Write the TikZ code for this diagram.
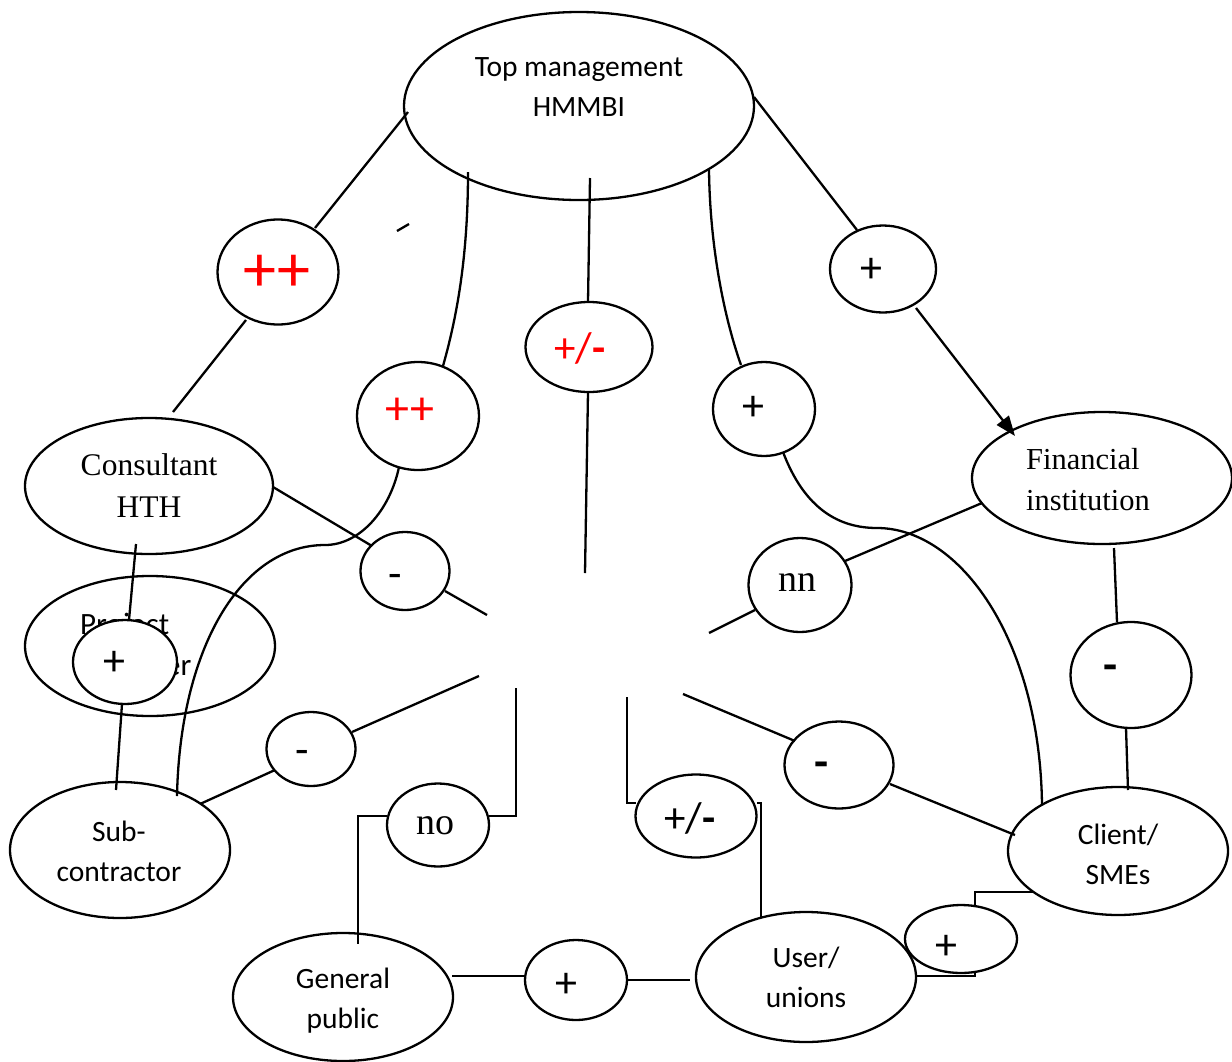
\documentclass[tikz,border=0pt]{standalone}
\usepackage{fontspec}
\setmainfont{Carlito}
\newfontfamily\tnrfont{Liberation Serif}
\usetikzlibrary{arrows.meta,calc,shapes.geometric}
\definecolor{signred}{RGB}{255,0,0}

\begin{document}
\begin{tikzpicture}[x=1pt,y=-1pt,line width=2.3pt,
  party/.style={draw,ellipse,inner sep=0pt,outer sep=0pt},
  sign/.style={draw,ellipse,inner sep=0pt,outer sep=0pt,fill=white},
  word/.style={inner sep=0pt,align=center,font=\fontsize{29.5}{40}\selectfont},
  rom/.style={inner sep=0pt,align=center,font=\tnrfont\fontsize{31.5}{42}\selectfont},
  plus/.style={inner sep=0pt,font=\fontsize{44}{44}\selectfont},
  bigplus/.style={inner sep=0pt,text=signred,font=\fontsize{66}{66}\selectfont},
  midplus/.style={inner sep=0pt,text=signred,font=\fontsize{48}{48}\selectfont},
  pm/.style={inner sep=0pt,font=\fontsize{43}{43}\selectfont},
  minus/.style={inner sep=0pt,font=\fontsize{44}{44}\selectfont},
  boldminus/.style={inner sep=0pt,font=\bfseries\fontsize{46}{46}\selectfont},
  short/.style={inner sep=0pt,font=\tnrfont\fontsize{38}{38}\selectfont},
  tip/.style={-{Triangle[length=20pt,width=15pt]}}
]
\fill[white] (0,0) rectangle (1232,1061);
\useasboundingbox (0,0) rectangle (1232,1061);

% stakeholders
\node[party,minimum width=350pt,minimum height=188pt] (top) at (579,106) {};
\node[party,minimum width=248pt,minimum height=136pt] (cons) at (149,486) {};
\node[party,minimum width=250pt,minimum height=140pt] (pmgr) at (150,646) {};
\node[party,minimum width=220pt,minimum height=136pt] (sub) at (120,850) {};
\node[party,minimum width=220pt,minimum height=128pt] (gen) at (343,997) {};
\node[party,minimum width=220pt,minimum height=130pt] (user) at (806,977) {};
\node[party,minimum width=220pt,minimum height=128pt] (client) at (1118,851) {};
\node[party,minimum width=260pt,minimum height=132pt] (fin) at (1102,478) {};

\node[word] (t-top) at (579,87) {Top management\\HMMBI};
\node[rom] (t-cons) at (149,486) {Consultant\\HTH};
\node[word,align=left,anchor=west,font=\fontsize{31}{41}\selectfont] (t-pmgr) at (79,647) {Project\\manager};
\node[word] (t-sub) at (119,851) {Sub-\\contractor};
\node[word] (t-gen) at (343,1001) {General\\public};
\node[word] (t-user) at (806,977) {User/\\unions};
\node[word] (t-client) at (1118,854) {Client/\\SMEs};
\node[rom,align=left,anchor=west,font=\tnrfont\fontsize{30.5}{41}\selectfont] (t-fin) at (1025,480) {Financial\\institution};

% relation markers
\node[sign,minimum width=121pt,minimum height=105pt] (ppA) at (278,272) {};
\node[sign,minimum width=122pt,minimum height=108pt] (ppB) at (418,416) {};
\node[sign,minimum width=127pt,minimum height=90pt] (pmC) at (589,347) {};
\node[sign,minimum width=102pt,minimum height=94pt] (pD) at (764,409) {};
\node[sign,minimum width=106pt,minimum height=87pt] (pE) at (883,269) {};
\node[sign,minimum width=89pt,minimum height=78pt] (mF) at (405,571) {};
\node[sign,minimum width=103pt,minimum height=94pt] (nnG) at (800,585) {};
\node[sign,minimum width=121pt,minimum height=106pt] (mH) at (1131,675) {};
\node[sign,minimum width=89pt,minimum height=74pt] (mI) at (311,749) {};
\node[sign,minimum width=102pt,minimum height=83pt] (noJ) at (438,825) {};
\node[sign,minimum width=121pt,minimum height=83pt] (pmK) at (696,816) {};
\node[sign,minimum width=109pt,minimum height=87pt] (mL) at (839,765) {};
\node[sign,minimum width=102pt,minimum height=80pt] (pM) at (576,980) {};
\node[sign,minimum width=112pt,minimum height=68pt] (pN) at (961,939) {};
\node[sign,minimum width=104pt,minimum height=84pt] (pO) at (125,662) {};

\node[bigplus] (l-ppA) at (277,273) {++};
\node[midplus] (l-ppB) at (410,411) {++};
\node[pm,text=signred] (l-pmC) at (580,348) {+/\textbf{-}};
\node[plus] (l-pD) at (753,408) {+};
\node[plus] (l-pE) at (871,270) {+};
\node[minus] (l-mF) at (395,581) {-};
\node[short] (l-nn) at (797,583) {nn};
\node[boldminus] (l-mH) at (1111,673) {-};
\node[minus] (l-mI) at (302,757) {-};
\node[short] (l-no) at (435,826) {no};
\node[pm] (l-pmK) at (690,818) {+/\textbf{-}};
\node[boldminus] (l-mL) at (822,770) {-};
\node[plus] (l-pM) at (566,985) {+};
\node[plus] (l-pN) at (946,947) {+};
\node[plus] (l-pO) at (114,663) {+};

% loose ends near the centre
\coordinate (e1) at (173,412);
\coordinate (e2) at (585,573);
\coordinate (e3) at (487,615);
\coordinate (e4) at (709,633);
\coordinate (e5) at (479,676);
\coordinate (e6) at (516,688);
\coordinate (e7) at (627,697);
\coordinate (e8) at (683,694);
\coordinate (s1) at (397,231);
\coordinate (s2) at (409,224);

% top management links
\draw ($(top.center)+(-171,6)$) -- ($(ppA.center)+(37,-44)$);
\draw ($(ppA.center)+(-32,48)$) -- (e1);
\draw (s1) -- (s2);
\draw ($(top.center)+(-111,66)$) .. controls (468,260) and (456,320) .. ($(ppB.center)+(25,-50)$);
\draw ($(ppB.center)+(-19,51)$) .. controls (390,510) and (360,545) .. (325,545)
      .. controls (240,545) and (180,650) .. ($(sub.center)+(57,-54)$);
\draw ($(top.center)+(11,72)$) -- ($(pmC.center)+(-1,-45)$);
\draw ($(pmC.center)+(-1,45)$) -- (e2);
\draw ($(top.center)+(130,64)$) .. controls (710,250) and (725,320) .. ($(pD.center)+(-23,-44)$);
\draw ($(pD.center)+(19,43)$) .. controls (805,510) and (840,528) .. (877,528)
      .. controls (960,528) and (1040,640) .. ($(client.center)+(-76,-46)$);
\draw ($(top.center)+(175,-9)$) -- ($(pE.center)+(-26,-39)$);
\draw[tip] ($(pE.center)+(33,39)$) -- ($(fin.center)+(-87,-42)$);

% consultant links
\draw ($(cons.center)+(124,1)$) -- ($(mF.center)+(-33,-25)$);
\draw ($(mF.center)+(40,20)$) -- (e3);
\draw ($(cons.center)+(-13,58)$) -- ($(pO.center)+(4,-42)$);
\draw ($(pO.center)+(-3,42)$) -- ($(sub.center)+(-4,-60)$);

% financial institution links
\draw ($(fin.center)+(-120,25)$) -- ($(nnG.center)+(45,-24)$);
\draw ($(nnG.center)+(-45,25)$) -- (e4);
\draw ($(fin.center)+(12,70)$) -- ($(mH.center)+(-14,-53)$);
\draw ($(mH.center)+(-5,53)$) -- ($(client.center)+(10,-61)$);

% sub-contractor link
\draw ($(sub.center)+(80,-46)$) -- ($(mI.center)+(-36,21)$);
\draw ($(mI.center)+(41,-17)$) -- (e5);

% general public and user links
\draw (e6) |- ($(noJ.center)+(51,-9)$);
\draw ($(noJ.center)+(-51,-9)$) -| ($(gen.center)+(15,-53)$);
\draw (e7) |- ($(pmK.center)+(-60,-13)$);
\draw ($(pmK.center)+(61,-13)$) -| ($(user.center)+(-45,-60)$);
\draw (e8) -- ($(mL.center)+(-44,-24)$);
\draw ($(mL.center)+(51,19)$) -- ($(client.center)+(-103,-16)$);
\draw ($(gen.center)+(109,-21)$) -- ($(pM.center)+(-51,-4)$);
\draw ($(pM.center)+(51,0)$) -- ($(user.center)+(-116,3)$);
\draw ($(client.center)+(-85,41)$) -| ($(pN.center)+(14,-33)$);
\draw ($(pN.center)+(14,33)$) |- ($(user.center)+(111,-1)$);
\end{tikzpicture}
\end{document}
